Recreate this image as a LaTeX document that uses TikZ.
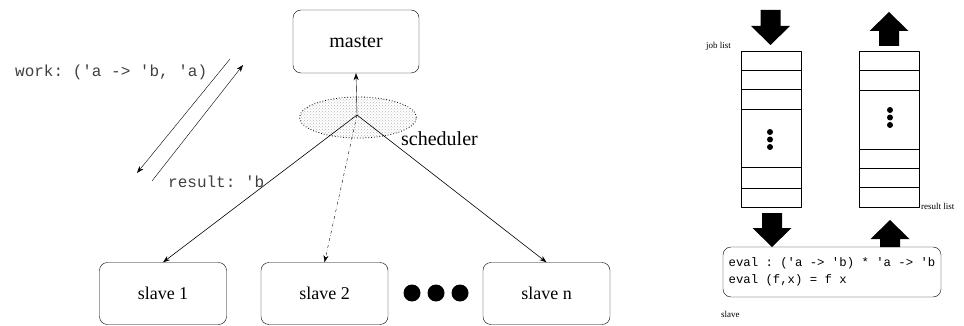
\documentclass[tikz,border=0pt]{standalone}
\usepackage{fontspec}
\setmainfont{Liberation Serif}
\setmonofont{Liberation Mono}
\usetikzlibrary{shapes.geometric,patterns,arrows.meta}

% fat black arrow: tip x, tip y, 1 = down / -1 = up, length
\newcommand{\fatarrow}[4]{%
  \fill[shift={(#1,#2)}, yscale=#3] (0,0) -- (-19.5,-19) -- (-10,-19) -- (-10,-#4)
    -- (10,-#4) -- (10,-19) -- (19.5,-19) -- cycle;}

\tikzset{
  proc/.style={draw, rounded corners=8pt, minimum width=127pt, minimum height=62pt,
    inner sep=0pt, font=\fontsize{18}{20}\selectfont},
  code/.style={font=\ttfamily\fontsize{16}{18}\selectfont, text=black!75, inner sep=0pt},
  listbox/.style={draw, minimum width=60pt, minimum height=156pt, inner sep=0pt},
  tinylbl/.style={font=\fontsize{9}{10}\selectfont, inner sep=0pt},
}

\begin{document}
\begin{tikzpicture}[x=1pt, y=-1pt, >={Stealth[length=7pt,width=5pt]}, line join=round]
  \useasboundingbox (0,0) rectangle (964,326);
  % master, scheduler and slaves
  \node[proc, minimum width=126pt, minimum height=63pt, font=\fontsize{20}{22}\selectfont] (master) at (356,41.5) {master};
  \node[ellipse, draw, dotted, thick, pattern=crosshatch dots, pattern color=gray!55,
    minimum width=117pt, minimum height=41pt, inner sep=0pt] (sched) at (358,117.5) {};
  \coordinate (hub) at (357,115);
  \node[font=\fontsize{20}{22}\selectfont, anchor=west, inner sep=0pt] (schedlbl) at (401,139) {scheduler};
  \node[proc] (slave1) at (163,293.5) {slave 1};
  \node[proc] (slave2) at (324.5,293.5) {slave 2};
  \node[proc] (slaven) at (546.5,293.5) {slave n};
  \foreach \x in {412,436,460} \fill (\x,293) circle (8.5);
  \draw[->] (hub) -- (master.south);
  \draw[->, semithick] (hub) -- (slave1.north);
  \draw[->, dash dot] (hub) -- (slave2.north);
  \draw[->, semithick] (hub) -- (slaven.north);
  % messages
  \coordinate (w1) at (230,59); \coordinate (w2) at (137,173);
  \coordinate (r1) at (152,181); \coordinate (r2) at (243,65);
  \draw[->] (w1) -- (w2);
  \draw[->] (r1) -- (r2);
  \node[code, anchor=west] (work) at (15,72) {work: ('a -> 'b, 'a)};
  \node[code, anchor=west] (result) at (168,182) {result: 'b};
  % job list and result list
  \node[listbox] (job) at (771,129) {};
  \node[listbox] (res) at (889.5,129) {};
  \foreach \y in {70,89,109,167,188} \draw (job.west |- 0,\y) -- (job.east |- 0,\y);
  \foreach \y in {70,90,149,168,187} \draw (res.west |- 0,\y) -- (res.east |- 0,\y);
  \foreach \y in {132,139.5,147} \fill (770,\y) circle (3);
  \foreach \y in {110,117.5,125} \fill (890,\y) circle (3);
  \node[tinylbl, anchor=east] (joblbl) at (731,46) {job list};
  \node[tinylbl, anchor=west] (reslbl) at (921,206) {result list};
  % slave with eval
  \node[draw, rounded corners=8pt, minimum width=218pt, minimum height=50pt, align=left,
    font=\ttfamily\fontsize{12.3}{17}\selectfont] (eval) at (832,272)
    {eval : ('a -> 'b) * 'a -> 'b\\eval (f,x) = f x};
  \node[tinylbl, anchor=west] (slavelbl) at (721,314) {slave};
  \fatarrow{770.5}{45}{1}{35}
  \fatarrow{889}{12}{-1}{34}
  \fatarrow{772}{247}{1}{34}
  \fatarrow{890}{220}{-1}{27}
\end{tikzpicture}
\end{document}
